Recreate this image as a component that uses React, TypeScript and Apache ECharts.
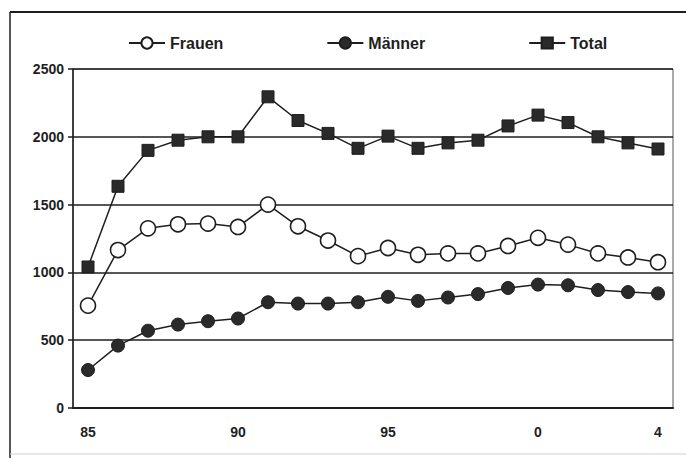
import React, { useEffect, useRef } from "react";
import * as echarts from "echarts";

const categories = ["85","86","87","88","89","90","91","92","93","94","95","96","97","98","99","0","1","2","3","4"];
const shownXLabels = ["85", "90", "95", "0", "4"];
const frauen = [755, 1165, 1325, 1355, 1360, 1335, 1500, 1340, 1235, 1120, 1180, 1130, 1140, 1140, 1195, 1255, 1205, 1140, 1110, 1075];
const maenner = [280, 460, 570, 615, 640, 660, 780, 770, 770, 780, 820, 790, 815, 840, 885, 910, 905, 870, 855, 845];
const total = [1040, 1635, 1900, 1975, 2000, 2000, 2295, 2120, 2025, 1915, 2005, 1915, 1955, 1975, 2080, 2160, 2105, 2000, 1955, 1910];

const FONT = "'Liberation Sans', Arial, sans-serif";
const INK = "#1e1e1e";

export default function App() {
  const ref = useRef<HTMLDivElement>(null);
  useEffect(() => {
    if (!ref.current) return;
    const chart = echarts.init(ref.current, undefined, { renderer: "svg" });
    chart.setOption({
      animation: false,
      backgroundColor: "#ffffff",
      graphic: [
        { type: "line", shape: { x1: 10, y1: 12, x2: 686, y2: 12 }, style: { stroke: INK, lineWidth: 2 } },
        { type: "line", shape: { x1: 10, y1: 12, x2: 10, y2: 458 }, style: { stroke: INK, lineWidth: 1.5 } },
        { type: "line", shape: { x1: 10, y1: 454, x2: 686, y2: 454 }, style: { stroke: "#cfcfcf", lineWidth: 1 } },
      ],
      legend: {
        left: 123,
        top: 30,
        itemGap: 103,
        itemWidth: 36,
        itemHeight: 14,
        textStyle: { fontFamily: FONT, fontWeight: "bold", fontSize: 16, color: INK },
        data: ["Frauen", "Männer", "Total"],
      },
      grid: {
        left: 73,
        right: 13,
        top: 69,
        bottom: 50,
        show: true,
        borderColor: "#555",
        borderWidth: 1,
        containLabel: false,
      },
      xAxis: {
        type: "category",
        data: categories,
        boundaryGap: true,
        axisLine: { lineStyle: { color: INK, width: 2 } },
        axisTick: { show: false },
        axisLabel: {
          interval: (_i: number, v: string) => shownXLabels.includes(v),
          margin: 17,
          fontFamily: FONT,
          fontWeight: "bold",
          fontSize: 14,
          color: INK,
        },
      },
      yAxis: {
        type: "value",
        min: 0,
        max: 2500,
        interval: 500,
        axisLine: { show: true, lineStyle: { color: INK, width: 1.5 } },
        axisTick: { show: true, length: 5, lineStyle: { color: INK, width: 1.5 } },
        splitLine: { lineStyle: { color: INK, width: 1.5 } },
        axisLabel: {
          margin: 9,
          formatter: (v: number) => String(v),
          fontFamily: FONT,
          fontWeight: "bold",
          fontSize: 14,
          color: INK,
        },
      },
      series: [
        {
          name: "Frauen",
          type: "line",
          data: frauen,
          symbol: "circle",
          symbolSize: 15,
          showAllSymbol: true,
          lineStyle: { color: INK, width: 1.5 },
          itemStyle: { color: "#ffffff", borderColor: INK, borderWidth: 1.6 },
          z: 3,
        },
        {
          name: "Männer",
          type: "line",
          data: maenner,
          symbol: "circle",
          symbolSize: 13,
          showAllSymbol: true,
          lineStyle: { color: INK, width: 1.5 },
          itemStyle: { color: "#2a2a2a", borderColor: INK, borderWidth: 1 },
          z: 3,
        },
        {
          name: "Total",
          type: "line",
          data: total,
          symbol: "rect",
          symbolSize: 12,
          showAllSymbol: true,
          lineStyle: { color: INK, width: 1.5 },
          itemStyle: { color: "#2a2a2a", borderColor: INK, borderWidth: 1 },
          z: 3,
        },
      ],
    });
    return () => chart.dispose();
  }, []);
  return (
    <div
      ref={ref}
      style={{ position: "fixed", left: 0, top: 0, width: 686, height: 458 }}
    />
  );
}
